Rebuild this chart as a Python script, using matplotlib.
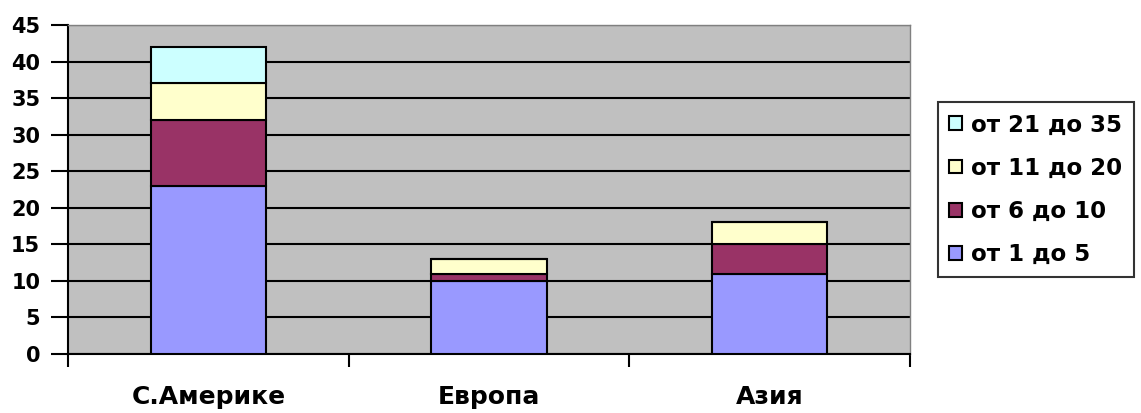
import matplotlib
matplotlib.use("Agg")
import matplotlib.pyplot as plt
import numpy as np

categories = ["С.Америке", "Европа", "Азия"]
series_labels = ["от 1 до 5", "от 6 до 10", "от 11 до 20", "от 21 до 35"]
series_values = [
    [23, 10, 11],   # от 1 до 5
    [9, 1, 4],      # от 6 до 10
    [5, 2, 3],      # от 11 до 20
    [5, 0, 0],      # от 21 до 35
]
series_colors = ["#9999FF", "#993366", "#FFFFCC", "#CCFFFF"]
y_ticks = list(range(0, 50, 5))

plt.rcParams["font.family"] = ["DejaVu Sans"]
plt.rcParams["font.weight"] = "bold"

fig = plt.figure(figsize=(11.41, 4.13), dpi=100)
ax = fig.add_axes([68 / 1141, 59 / 413, 842 / 1141, 329 / 413])
ax.set_facecolor("#C0C0C0")

x = np.arange(len(categories))
bottom = np.zeros(len(categories))
handles = []
for vals, lab, col in zip(series_values, series_labels, series_colors):
    vals = np.array(vals, dtype=float)
    b = ax.bar(x, vals, width=0.41, bottom=bottom, color=col,
               edgecolor="black", linewidth=1.5, label=lab, zorder=3)
    handles.append(b)
    bottom += vals

ax.set_xlim(-0.5, len(categories) - 0.5)
ax.set_ylim(0, 45)
ax.set_yticks(y_ticks)
ax.set_yticklabels([str(t) for t in y_ticks], fontsize=15, fontweight="bold")
ax.yaxis.grid(True, color="black", linewidth=1.5, zorder=1)
ax.set_axisbelow(True)

# category labels centred on bars, ticks at the category boundaries
ax.set_xticks(x)
ax.set_xticklabels(categories, fontsize=18, fontweight="bold")
ax.tick_params(axis="x", length=0, pad=22)
ax.set_xticks(np.arange(-0.5, len(categories)), minor=True)
ax.tick_params(axis="x", which="minor", length=9, width=1.5, direction="out")
ax.tick_params(axis="y", length=12, width=1.5, direction="out", pad=8)

for s in ["top", "right"]:
    ax.spines[s].set_color("#808080")
    ax.spines[s].set_linewidth(1)
for s in ["left", "bottom"]:
    ax.spines[s].set_color("black")
    ax.spines[s].set_linewidth(1.5)

leg = fig.legend(handles[::-1], series_labels[::-1],
                 loc="upper left", bbox_to_anchor=(938 / 1141, 1 - 102 / 413),
                 frameon=True, fancybox=False, edgecolor="black",
                 prop={"size": 16.5, "weight": "bold"},
                 handlelength=0.55, handleheight=0.55, handletextpad=0.4,
                 labelspacing=0.88, borderpad=0.5, borderaxespad=0)
leg.get_frame().set_linewidth(1.5)

fig.savefig("out.png", dpi=100, facecolor="white")
